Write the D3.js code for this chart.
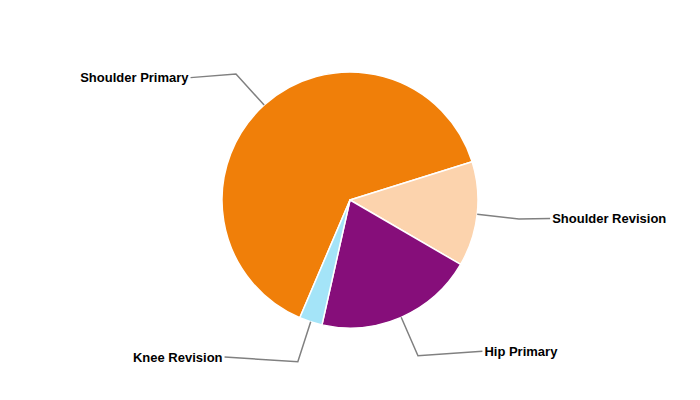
<!DOCTYPE html>
<html><head><meta charset="utf-8">
<script src="https://cdn.jsdelivr.net/npm/d3@7"></script>
<style>body{margin:0;background:#fff}</style>
</head><body><svg id="c" width="700" height="400"></svg>
<script>
const categories = ["Shoulder Primary", "Shoulder Revision", "Hip Primary", "Knee Revision"];
const values = [63.7, 13.2, 20.1, 2.9];
const colors = ["#F07F09", "#FCD3AD", "#860E7A", "#A4E4F8"];

const W = 700, H = 400, cx = 350, cy = 200, r = 128;
const svg = d3.select("#c");
const g = svg.append("g").attr("transform", `translate(${cx},${cy})`);
const start = 203.1 * Math.PI / 180;
const pie = d3.pie().sort(null).startAngle(start).endAngle(start + 2 * Math.PI);
const arcs = pie(values);
const arc = d3.arc().innerRadius(0).outerRadius(r);

g.selectAll("path.slice").data(arcs).join("path")
  .attr("class", "slice")
  .attr("d", arc)
  .attr("fill", (d, i) => colors[i])
  .attr("stroke", "#fff").attr("stroke-width", 1.5).attr("stroke-linejoin", "round");

const elbowR = 170, labelR = 201, labelYR = 165;
arcs.forEach((d, i) => {
  const a = (d.startAngle + d.endAngle) / 2;
  const sx = Math.sin(a), sy = -Math.cos(a);
  const edge = [sx * r, sy * r];
  const elbow = [sx * elbowR, sy * elbowR];
  const ly = sy * labelYR;
  const right = sx > 0;
  const lx = (right ? 1 : -1) * Math.sqrt(labelR * labelR - ly * ly);
  const tx = lx + (right ? 2 : -2);
  g.append("path")
    .attr("d", `M${lx},${ly}L${elbow[0]},${elbow[1]}L${edge[0]},${edge[1]}`)
    .attr("fill", "none").attr("stroke", "#808080").attr("stroke-width", 1.5);
  g.append("text")
    .attr("x", tx).attr("y", ly).attr("dy", "0.35em")
    .attr("text-anchor", right ? "start" : "end")
    .attr("font-family", "'Liberation Sans', Arial, sans-serif")
    .attr("font-weight", "bold").attr("font-size", 13).attr("fill", "#000")
    .text(categories[i]);
});
</script></body></html>
